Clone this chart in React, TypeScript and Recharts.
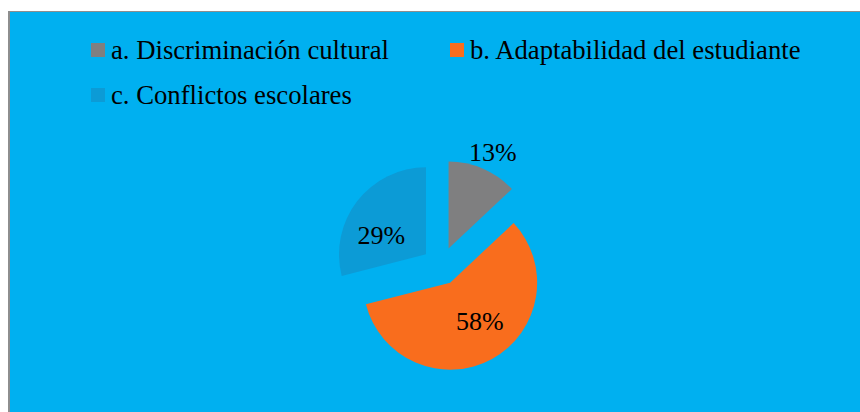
import { PieChart, Pie, Cell } from 'recharts'

const categories = ['a. Discriminación cultural', 'b. Adaptabilidad del estudiante', 'c. Conflictos escolares']
const values = [13, 58, 29]
const colors = ['#7F7F80', '#F96D1D', '#0C9BD6']

const FONT = '"Liberation Serif", "Times New Roman", serif'
const W = 860
const H = 412
const CX = 441
const CY = 266
const RADIUS = 87
const EXPLODE = 19

// label tweaks to mimic Excel's "best fit" placement
const labelRadius = [1.22, 0.56, 0.56]
const labelNudge = [-1.2, 8.8, 14.5]

const data = categories.map((name, i) => ({ name, value: values[i] }))
const total = values.reduce((a, b) => a + b, 0)

// mid angle of each slice (recharts convention: degrees ccw from 3 o'clock, starting at 12)
const midAngles = values.map((v, i) => {
  const before = values.slice(0, i).reduce((a, b) => a + b, 0)
  return 90 - (360 * (before + v / 2)) / total
})

const RAD = Math.PI / 180

function makeLabel(slice: number) {
  return (props: any) => {
    const { cx, cy, midAngle, outerRadius, index, value } = props
    if (index !== slice) return null
    const a = (midAngle + labelNudge[index]) * RAD
    const r = outerRadius * labelRadius[index]
    const x = cx + r * Math.cos(a)
    const y = cy - r * Math.sin(a)
    return (
      <text x={x} y={y} textAnchor="middle" dominantBaseline="central" fill="#000" fontFamily={FONT} fontSize={26}>
        {value}%
      </text>
    )
  }
}

function LegendItem({ color, label }: { color: string; label: string }) {
  return (
    <div style={{ display: 'flex', alignItems: 'center' }}>
      <span style={{ width: 14, height: 14, background: color, marginRight: 6, display: 'inline-block' }} />
      <span>{label}</span>
    </div>
  )
}

export default function App() {
  return (
    <div style={{ position: 'fixed', left: 0, top: 0, width: W, height: H, overflow: 'hidden', background: '#fff' }}>
      <div
        style={{
          position: 'absolute',
          left: 8,
          top: 11,
          width: W,
          height: H,
          background: '#00B0F0',
          borderLeft: '2px solid #8E8E8E',
          borderTop: '1px solid #8E8E8E',
        }}
      />
      <div
        style={{
          position: 'absolute',
          left: 91,
          top: 30,
          fontFamily: FONT,
          fontSize: 26.7,
          color: '#000',
          lineHeight: '40px',
        }}
      >
        <div style={{ display: 'flex' }}>
          <div style={{ width: 359 }}>
            <LegendItem color={colors[0]} label={categories[0]} />
          </div>
          <LegendItem color={colors[1]} label={categories[1]} />
        </div>
        <div style={{ marginTop: 5 }}>
          <LegendItem color={colors[2]} label={categories[2]} />
        </div>
      </div>
      <div style={{ position: 'absolute', left: 0, top: 0 }}>
        <PieChart width={W} height={H} margin={{ top: 0, right: 0, bottom: 0, left: 0 }}>
          {values.map((_, i) => (
            <Pie
              key={i}
              data={data}
              dataKey="value"
              nameKey="name"
              cx={CX + EXPLODE * Math.cos(midAngles[i] * RAD)}
              cy={CY - EXPLODE * Math.sin(midAngles[i] * RAD)}
              outerRadius={RADIUS}
              startAngle={90}
              endAngle={-270}
              stroke="none"
              label={makeLabel(i)}
              labelLine={false}
              isAnimationActive={false}
            >
              {data.map((d, j) => (
                <Cell key={d.name} fill={j === i ? colors[j] : 'transparent'} stroke="none" />
              ))}
            </Pie>
          ))}
        </PieChart>
      </div>
    </div>
  )
}
